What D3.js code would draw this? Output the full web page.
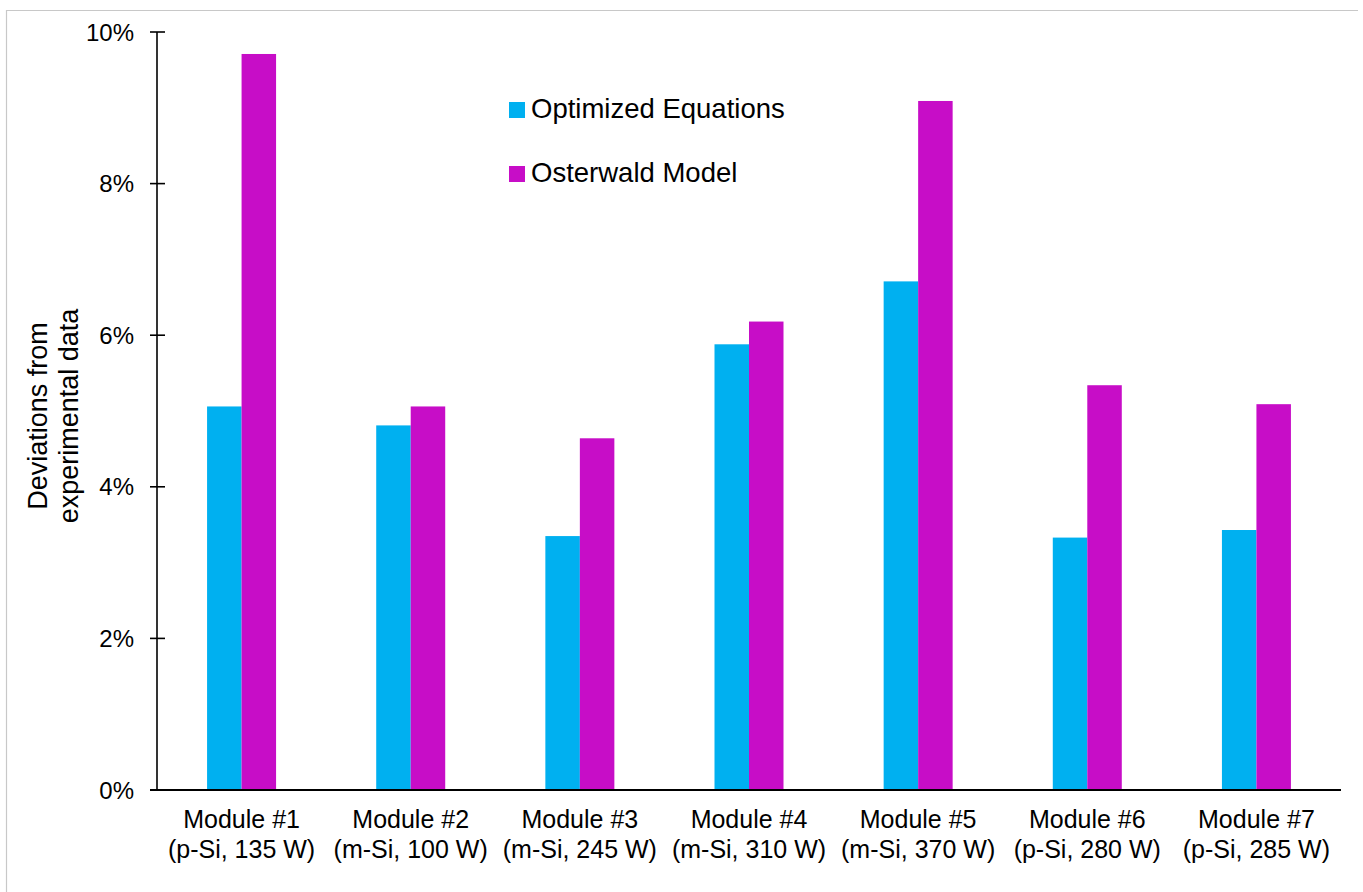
<!DOCTYPE html>
<html>
<head>
<meta charset="utf-8">
<script src="https://cdn.jsdelivr.net/npm/d3@7"></script>
<style>
  body { margin: 0; background: #fff; }
  text { font-family: "Liberation Sans", Arial, sans-serif; fill: #000; }
</style>
</head>
<body>
<script>
// data
var modules = ["Module #1", "Module #2", "Module #3", "Module #4", "Module #5", "Module #6", "Module #7"];
var moduleInfo = ["(p-Si, 135 W)", "(m-Si, 100 W)", "(m-Si, 245 W)", "(m-Si, 310 W)", "(m-Si, 370 W)", "(p-Si, 280 W)", "(p-Si, 285 W)"];
var seriesNames = ["Optimized Equations", "Osterwald Model"];
var optimized = [5.06, 4.81, 3.35, 5.88, 6.71, 3.33, 3.43];
var osterwald = [9.71, 5.06, 4.64, 6.18, 9.09, 5.34, 5.09];
var yTicks = [0, 2, 4, 6, 8, 10];
var colors = ["#00B0F0", "#C70DC7"];

var W = 1363, H = 892;
var x0 = 157, x1 = 1341, yTop = 32, yBot = 790;

var svg = d3.select("body").append("svg")
    .attr("width", W)
    .attr("height", H);

// outer frame (top + left edges visible)
svg.append("path")
    .attr("d", "M6.5,892V10.5H1358")
    .attr("fill", "none")
    .attr("stroke", "#c8c8c8")
    .attr("stroke-width", 1.2);

var x = d3.scaleBand().domain(modules).range([x0, x1]).paddingInner(0).paddingOuter(0);
var xs = d3.scaleBand().domain(seriesNames).range([0, 69]);
var y = d3.scaleLinear().domain([0, 10]).range([yBot, yTop]);

var rows = modules.map(function(m, i) {
    return { m: m, vals: [optimized[i], osterwald[i]] };
});

// bars
var g = svg.append("g");
rows.forEach(function(r) {
    var cx = x(r.m) + x.bandwidth() / 2 - 34.5;
    r.vals.forEach(function(v, k) {
        g.append("rect")
            .attr("x", cx + xs(seriesNames[k]))
            .attr("width", xs.bandwidth())
            .attr("y", y(v))
            .attr("height", y(0) - y(v))
            .attr("fill", colors[k]);
    });
});

// y axis
svg.append("line")
    .attr("x1", x0).attr("x2", x0)
    .attr("y1", y(10)).attr("y2", yBot)
    .attr("stroke", "#000").attr("stroke-width", 1.6);

yTicks.forEach(function(t) {
    svg.append("line")
        .attr("x1", 150).attr("x2", 165)
        .attr("y1", y(t)).attr("y2", y(t))
        .attr("stroke", "#000").attr("stroke-width", 1.6);
    svg.append("text")
        .attr("x", 134)
        .attr("y", y(t))
        .attr("dy", "0.36em")
        .attr("text-anchor", "end")
        .style("font-size", "24px")
        .text(t + "%");
});

// x axis
svg.append("line")
    .attr("x1", 150).attr("x2", x1)
    .attr("y1", yBot).attr("y2", yBot)
    .attr("stroke", "#000").attr("stroke-width", 2.2);

modules.forEach(function(m, i) {
    var cx = x(m) + x.bandwidth() / 2;
    var t = svg.append("text")
        .attr("text-anchor", "middle")
        .style("font-size", "25px");
    t.append("tspan").attr("x", cx).attr("y", 828).text(m);
    t.append("tspan").attr("x", cx).attr("y", 858).text(moduleInfo[i]);
});

// y title
var yt = svg.append("text")
    .attr("transform", "translate(0,416) rotate(-90)")
    .attr("text-anchor", "middle")
    .style("font-size", "27px");
yt.append("tspan").attr("x", 0).attr("y", 47).text("Deviations from");
yt.append("tspan").attr("x", 0).attr("y", 78).text("experimental data");

// legend
seriesNames.forEach(function(s, k) {
    var ly = 118 + k * 64;
    svg.append("rect")
        .attr("x", 509).attr("y", ly - 16)
        .attr("width", 16).attr("height", 16)
        .attr("fill", colors[k]);
    svg.append("text")
        .attr("x", 531)
        .attr("y", ly)
        .style("font-size", "27.5px")
        .text(s);
});
</script>
</body>
</html>
